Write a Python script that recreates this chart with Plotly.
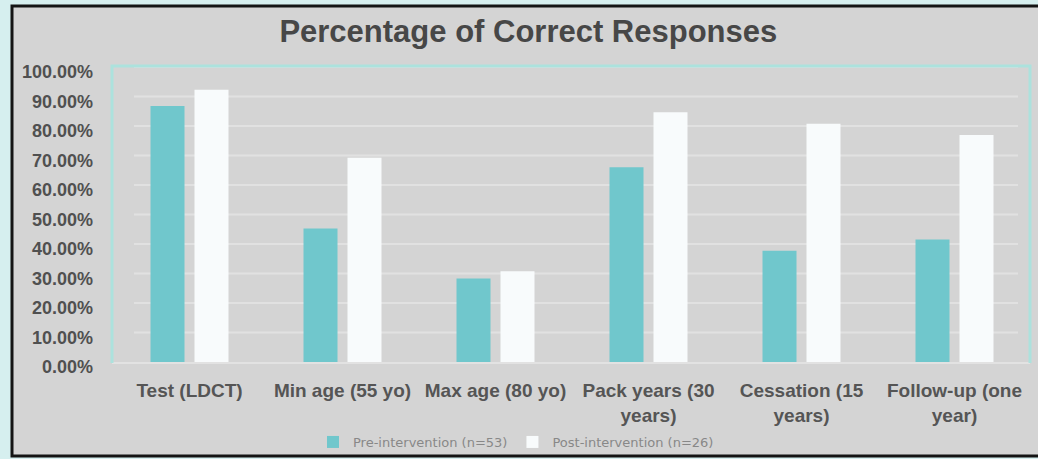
import plotly.graph_objects as go

# Survey items and share of correct answers before / after the intervention
categories = [
    "Test (LDCT)",
    "Min age (55 yo)",
    "Max age (80 yo)",
    "Pack years (30<br>years)",
    "Cessation (15<br>years)",
    "Follow-up (one<br>year)",
]
pre_values = [0.8679, 0.4528, 0.2830, 0.6604, 0.3774, 0.4151]
post_values = [0.9231, 0.6923, 0.3077, 0.8462, 0.8077, 0.7692]
pre_name = "Pre-intervention (n=53)"
post_name = "Post-intervention (n=26)"
y_ticks = [0, 0.1, 0.2, 0.3, 0.4, 0.5, 0.6, 0.7, 0.8, 0.9, 1.0]

W, H = 1038, 459
ML, MR, MT, MB = 113, 7, 67, 97
PW, PH = W - ML - MR, H - MT - MB

PANEL = "#d4d4d4"
TEAL = "#70c7cc"
WHITE = "#f8fbfc"
FONT = "Liberation Sans, Arial, sans-serif"


def px_x(px):
    return (px - ML) / PW


def px_y(py):
    return (H - MB - py) / PH


fig = go.Figure()
fig.add_trace(go.Bar(x=categories, y=pre_values, name=pre_name,
                     marker=dict(color=TEAL, line=dict(width=0))))
fig.add_trace(go.Bar(x=categories, y=post_values, name=post_name,
                     marker=dict(color=WHITE, line=dict(width=0))))

shapes = []
# gray panel with black frame
shapes.append(dict(type="rect", xref="paper", yref="paper", layer="below",
                   x0=px_x(12), x1=px_x(1045), y0=px_y(456), y1=px_y(6),
                   fillcolor=PANEL, line=dict(color="#141414", width=3)))
# horizontal gridlines, inset from the plot edges
for v in y_ticks[1:]:
    shapes.append(dict(type="line", xref="paper", yref="y", layer="below",
                       x0=px_x(134), x1=px_x(1018), y0=v, y1=v,
                       line=dict(color="#e1e1e1", width=2)))
# light baseline
shapes.append(dict(type="line", xref="paper", yref="paper", layer="below",
                   x0=px_x(112), x1=px_x(1030), y0=px_y(363), y1=px_y(363),
                   line=dict(color="#e2e2e2", width=2)))
# teal frame around the plotting region (left, top, right)
shapes.append(dict(type="path", xref="paper", yref="paper", layer="below",
                   path=f"M {px_x(112)},{px_y(363)} L {px_x(112)},{px_y(66)} "
                        f"L {px_x(1030)},{px_y(66)} L {px_x(1030)},{px_y(363)}",
                   line=dict(color="#ace2dd", width=3)))

fig.update_layout(
    width=W, height=H,
    margin=dict(l=ML, r=MR, t=MT, b=MB, pad=0, autoexpand=False),
    paper_bgcolor="#d6efef",
    plot_bgcolor=PANEL,
    shapes=shapes,
    barmode="group",
    bargap=0.425,
    bargroupgap=0.227,
    title=dict(text="Percentage of Correct Responses", x=0.509, xanchor="center",
               y=1 - 31 / H, yanchor="middle",
               font=dict(family=FONT, size=31, color="#474747", weight="bold")),
    showlegend=True,
    legend=dict(orientation="h", x=px_x(313), xanchor="left",
                y=px_y(442), yanchor="middle", bgcolor="rgba(0,0,0,0)",
                font=dict(family="DejaVu Sans, sans-serif", size=13, color="#888888"),
                itemwidth=30),
    xaxis=dict(showgrid=False, zeroline=False, showline=False, ticks="",
               tickfont=dict(family=FONT, size=19, color="#555555", weight="bold"),
               ticklabelstandoff=15),
    yaxis=dict(range=[0, 1.0], tickvals=y_ticks, tickformat=".2%",
               showgrid=False, zeroline=False, showline=False, ticks="",
               tickfont=dict(family=FONT, size=18, color="#505050", weight="bold"),
               ticklabelstandoff=19, ticklabelshift=5),
)

fig.write_html("out.html")
